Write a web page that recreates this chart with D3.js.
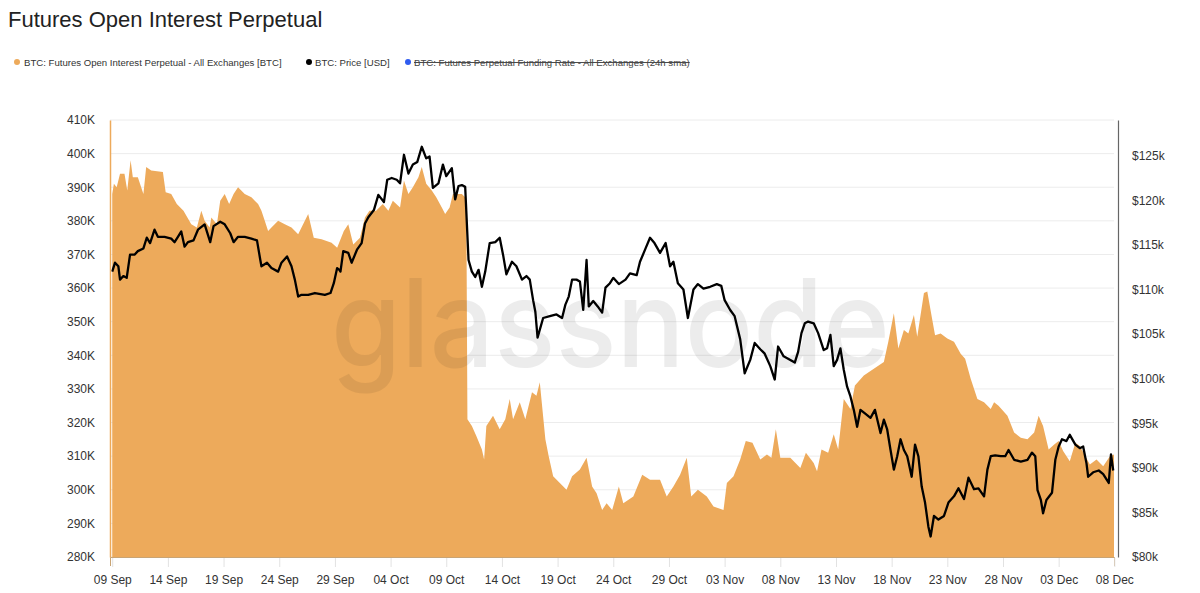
<!DOCTYPE html>
<html>
<head>
<meta charset="utf-8">
<script src="https://cdn.jsdelivr.net/npm/d3@7"></script>
<style>
  html, body { margin: 0; padding: 0; background: #fff; }
  svg { display: block; font-family: "Liberation Sans", Arial, Helvetica, sans-serif; }
</style>
</head>
<body>
<svg id="chart" width="1200" height="593"></svg>
<script>
// ---------- DATA ----------
const startDate = Date.UTC(2025, 8, 9); // 09 Sep 2025
const tickLabels = ["09 Sep","14 Sep","19 Sep","24 Sep","29 Sep","04 Oct","09 Oct","14 Oct","19 Oct","24 Oct","29 Oct","03 Nov","08 Nov","13 Nov","18 Nov","23 Nov","28 Nov","03 Dec","08 Dec"];
const leftTicks = [280,290,300,310,320,330,340,350,360,370,380,390,400,410]; // K BTC
const rightTicks = [80,85,90,95,100,105,110,115,120,125]; // $k

// Open interest (days since 09 Sep, thousands of BTC)
const oiDay = [0,0.15,0.4,0.7,1.1,1.35,1.65,1.85,2.3,2.8,3.05,3.5,4.55,4.8,5.3,5.8,6.4,7.1,7.6,8.0,8.3,8.75,8.9,9.4,9.7,10.1,10.5,10.9,11.3,11.9,12.5,13.1,13.4,13.7,14.0,14.3,14.9,15.5,16.1,16.7,17.3,17.6,18.1,18.8,19.7,20.2,20.8,21.2,21.65,22.25,22.7,23.1,23.7,24.3,24.8,25.2,25.85,26.2,26.6,27.0,27.5,27.8,28.2,28.7,29.1,29.6,29.9,30.3,30.6,31.4,31.7,31.8,31.9,32.3,32.7,33.2,33.4,33.6,34.2,34.8,35.3,35.7,36.0,36.6,37.1,37.7,38.1,38.4,38.9,39.2,39.6,40.2,40.8,41.3,42.0,42.6,43.1,43.5,44.0,44.4,44.9,45.5,45.9,46.8,47.6,48.3,49.2,49.8,50.4,51.0,51.6,52.0,52.6,53.4,54.0,54.9,55.2,55.8,56.4,56.9,57.5,58.2,58.8,59.2,59.6,60.0,60.9,61.8,62.3,63.0,63.3,63.7,64.3,64.8,65.2,65.7,66.3,66.7,67.5,68.4,69.3,69.7,70.2,70.6,71.1,71.5,72.0,72.3,72.9,73.2,73.6,73.9,74.4,75.0,75.6,76.2,76.6,77.1,77.7,78.3,78.9,79.2,79.6,80.4,81.0,81.6,82.2,82.8,83.2,83.6,84.1,84.6,85.0,85.4,86.0,86.5,86.9,87.4,87.8,88.4,89.0,89.6,89.97];
const oiK = [388,391,390,394,394,389,398,393,393,388,396,395,394.5,388.5,388,385,383,379,378,383,380,378,381,379,386,388,385,388,390,388,387,385,383,380,377,378,380,379,378,376,380,382,375,374.5,373.5,372,377,379,373,375,381,383,383,385,383,386,384,392,388,390,393,396,391,389,387,384,382,384,388,388,387,386,321,319,316,312,309,319,322,318,321,327,321,326,321,329,328,332,315,310,304,302,300,304,306,309.5,301,299,294,296,294,301,296,298,304.5,303,303,298,301,304.5,309.5,298,300,298,295,294,302,304,309,314.5,314,309,310.5,309.5,318,309.5,309.5,306.5,311,308,305.5,312,311,316.5,312,327,324,331,334,336,338,344,352.5,342,347.5,346.5,352,345.5,358.5,359,351.5,346,346.5,345,344,340.5,339,333,327,326,324,326,325,322,317,315.5,315,317,322,319,312,313.5,314.5,311.5,308.5,314,313,310,307.5,309,307,310,310.5];

// BTC price (days since 09 Sep, thousands of USD)
const priceDay = [0,0.25,0.55,0.7,1.0,1.3,1.6,2.0,2.3,2.8,3.1,3.4,3.8,4.1,4.7,5.3,5.6,5.9,6.2,6.5,6.8,7.3,7.7,8.3,8.8,9.1,9.7,10.1,10.6,10.9,11.3,11.9,12.5,13.0,13.3,13.4,13.9,14.3,14.9,15.2,15.7,16.1,16.4,16.7,17.0,17.6,18.2,19.1,19.6,19.9,20.2,20.4,20.5,20.75,21.2,21.5,22.0,22.4,22.7,23.0,23.5,23.9,24.4,24.7,25.1,25.55,25.85,26.2,26.6,27.0,27.4,27.8,28.2,28.5,28.8,29.3,29.7,30.0,30.5,30.8,31.1,31.4,31.7,31.85,32.0,32.3,32.6,32.9,33.2,33.5,33.9,34.4,34.8,35.1,35.4,35.9,36.3,36.8,37.2,37.5,37.8,38.0,38.2,38.7,39.3,39.9,40.4,40.7,41.0,41.3,41.7,42.0,42.3,42.6,42.8,43.2,43.6,44.0,44.3,44.7,45.0,45.5,46.1,46.5,47.1,47.4,47.9,48.3,48.7,49.2,49.7,50.1,50.4,50.8,51.3,51.7,52.2,52.6,53.1,53.7,54.3,54.7,55.0,55.5,55.9,56.4,56.8,57.3,57.7,58.2,58.6,59.1,59.5,59.8,60.3,60.9,61.3,61.6,61.9,62.2,62.5,63.0,63.4,63.9,64.2,64.5,64.8,65.1,65.4,65.7,66.0,66.3,66.6,66.9,67.2,67.6,68.1,68.5,69.0,69.3,69.6,69.9,70.2,70.5,70.8,71.1,71.4,71.8,72.1,72.4,72.7,73.0,73.3,73.5,73.8,74.2,74.7,75.1,75.6,76.0,76.5,76.9,77.4,77.8,78.3,78.6,78.9,79.3,79.8,80.2,80.5,81.0,81.6,82.2,82.6,82.9,83.1,83.4,83.6,83.9,84.4,84.7,85.0,85.3,85.7,86.0,86.5,86.9,87.2,87.5,87.65,88.1,88.6,89.0,89.5,89.7,89.9];
const priceK = [112.0,113.0,112.6,111.1,111.5,111.3,113.9,113.9,114.3,114.6,115.8,115.2,116.7,115.9,115.9,115.7,115.3,115.9,116.5,114.8,115.3,115.5,116.7,117.3,115.3,117.1,117.6,117.3,116.3,115.3,115.9,115.9,115.7,115.5,113.3,112.6,113.0,112.4,112.0,113.0,113.7,112.6,111.1,109.2,109.4,109.4,109.6,109.4,109.6,110.7,112.4,112.2,112.0,114.3,114.1,113.0,114.5,115.2,117.4,118.1,118.9,120.6,119.8,122.3,122.5,122.3,121.9,125.1,123.0,124.0,124.3,126.0,124.7,124.9,121.4,121.9,124.0,122.7,123.6,120.1,121.6,121.7,121.5,117.4,113.3,112.0,111.4,112.2,110.3,112.0,115.2,115.3,115.8,113.9,111.7,113.1,112.6,111.1,111.5,111.1,108.8,107.5,104.6,106.8,107.0,107.2,106.8,108.3,109.2,111.1,111.1,110.9,107.7,113.3,108.1,108.7,108.1,107.4,110.2,110.7,111.3,110.6,111.1,111.8,111.6,113.1,114.6,115.8,115.2,114.1,115.2,112.6,113.1,110.7,110.0,106.8,110.0,110.6,110.1,110.3,110.6,110.4,108.8,107.7,107.0,104.4,100.6,102.1,104.0,103.3,102.8,101.4,99.9,103.6,102.5,102.1,101.8,103.0,105.1,106.2,106.4,106.2,105.1,103.2,103.4,104.9,101.4,102.1,103.4,101.0,99.1,98.0,96.5,94.6,96.5,96.1,95.6,96.5,93.9,95.4,94.3,92.0,89.8,91.3,93.2,92.0,91.3,89.0,92.6,91.3,87.9,86.1,83.4,82.3,84.6,84.2,84.6,86.1,86.8,87.7,86.5,88.9,87.6,87.7,86.8,89.8,91.3,91.4,91.3,91.3,92.0,90.9,90.7,90.9,91.7,91.3,87.5,86.4,84.9,86.4,87.2,90.9,92.4,93.2,93.0,93.7,92.6,92.2,92.4,90.5,89.0,89.5,89.7,89.3,88.3,91.5,89.7];

// ---------- LAYOUT ----------
const DAY = 86400000;
const plotL = 110, plotR = 1114, plotT = 120, plotB = 557;
const orange = "#EDAA5B";

const svg = d3.select("#chart");

const x = d3.scaleUtc()
  .domain([new Date(startDate - 0.2 * DAY), new Date(startDate + 89.97 * DAY)])
  .range([plotL, plotR]);
const yL = d3.scaleLinear().domain([280, 410]).range([plotB, plotT]);
const yR = d3.scaleLinear().domain([80, 129]).range([plotB, plotT]);

const toDate = d => new Date(startDate + d * DAY);
const oiData = oiDay.map((d, i) => ({ t: toDate(d), v: oiK[i] }));
const priceData = priceDay.map((d, i) => ({ t: toDate(d), v: priceK[i] }));

// Title
svg.append("text").attr("x", 8).attr("y", 27)
  .attr("font-size", 22).attr("fill", "#222").text("Futures Open Interest Perpetual");

// Legend
const legend = [
  { cx: 17, tx: 24, color: orange, label: "BTC: Futures Open Interest Perpetual - All Exchanges [BTC]", strike: false },
  { cx: 309, tx: 315, color: "#000", label: "BTC: Price [USD]", strike: false },
  { cx: 408, tx: 414, color: "#2f5cf0", label: "BTC: Futures Perpetual Funding Rate - All Exchanges (24h sma)", strike: true }
];
legend.forEach(l => {
  svg.append("circle").attr("cx", l.cx).attr("cy", 62).attr("r", 3).attr("fill", l.color);
  const t = svg.append("text").attr("x", l.tx).attr("y", 65.5).attr("font-size", 9.6)
    .attr("fill", l.strike ? "#444" : "#333").text(l.label);
  if (l.strike) t.attr("text-decoration", "line-through");
});

// Gridlines
svg.append("g").selectAll("line").data(leftTicks).join("line")
  .attr("x1", plotL).attr("x2", plotR)
  .attr("y1", d => yL(d)).attr("y2", d => yL(d))
  .attr("stroke", "#ececec").attr("stroke-width", 1);

// Area
const area = d3.area().x(d => x(d.t)).y0(plotB).y1(d => yL(d.v)).curve(d3.curveLinear);
svg.append("path").datum(oiData).attr("d", area).attr("fill", orange);

// Watermark
svg.append("text").attr("x", 331).attr("y", 367)
  .attr("font-family", "Inter, 'Open Sans', sans-serif").attr("font-weight", 500)
  .attr("font-size", 122).attr("fill", "#000").attr("opacity", 0.07)
  .attr("textLength", 559).attr("lengthAdjust", "spacingAndGlyphs")
  .text("glassnode");

// Price line
const line = d3.line().x(d => x(d.t)).y(d => yR(d.v)).curve(d3.curveLinear);
svg.append("path").datum(priceData).attr("d", line)
  .attr("fill", "none").attr("stroke", "#000").attr("stroke-width", 2.3).attr("stroke-linejoin", "round");

// Left axis
const gL = svg.append("g").attr("transform", `translate(${plotL},0)`)
  .call(d3.axisLeft(yL).tickValues(leftTicks).tickSize(0).tickPadding(15).tickFormat(d => d + "K"));
gL.select(".domain").attr("stroke", orange).attr("stroke-width", 1.5);
gL.selectAll("text").attr("font-size", 12).attr("fill", "#333").attr("font-family", null);

// Right axis
const gR = svg.append("g").attr("transform", `translate(1118,0)`)
  .call(d3.axisRight(yR).tickValues(rightTicks).tickSize(0).tickPadding(14).tickFormat(d => "$" + d + "k"));
gR.select(".domain").attr("stroke", "#666").attr("stroke-width", 1.2);
gR.selectAll("text").attr("font-size", 12).attr("fill", "#333").attr("font-family", null);

// Bottom axis
const tickDates = tickLabels.map((_, i) => new Date(startDate + i * 5 * DAY));
const gB = svg.append("g").attr("transform", `translate(0,${plotB})`)
  .call(d3.axisBottom(x).tickValues(tickDates).tickSize(9).tickPadding(9)
    .tickFormat((d, i) => tickLabels[i]));
gB.select(".domain").attr("stroke", "#c9a474").attr("stroke-width", 1);
gB.selectAll(".tick line").attr("stroke", "#e2e2e2").attr("transform", "translate(0,1)");
gB.selectAll("text").attr("font-size", 12).attr("fill", "#333").attr("font-family", null);
</script>
</body>
</html>
